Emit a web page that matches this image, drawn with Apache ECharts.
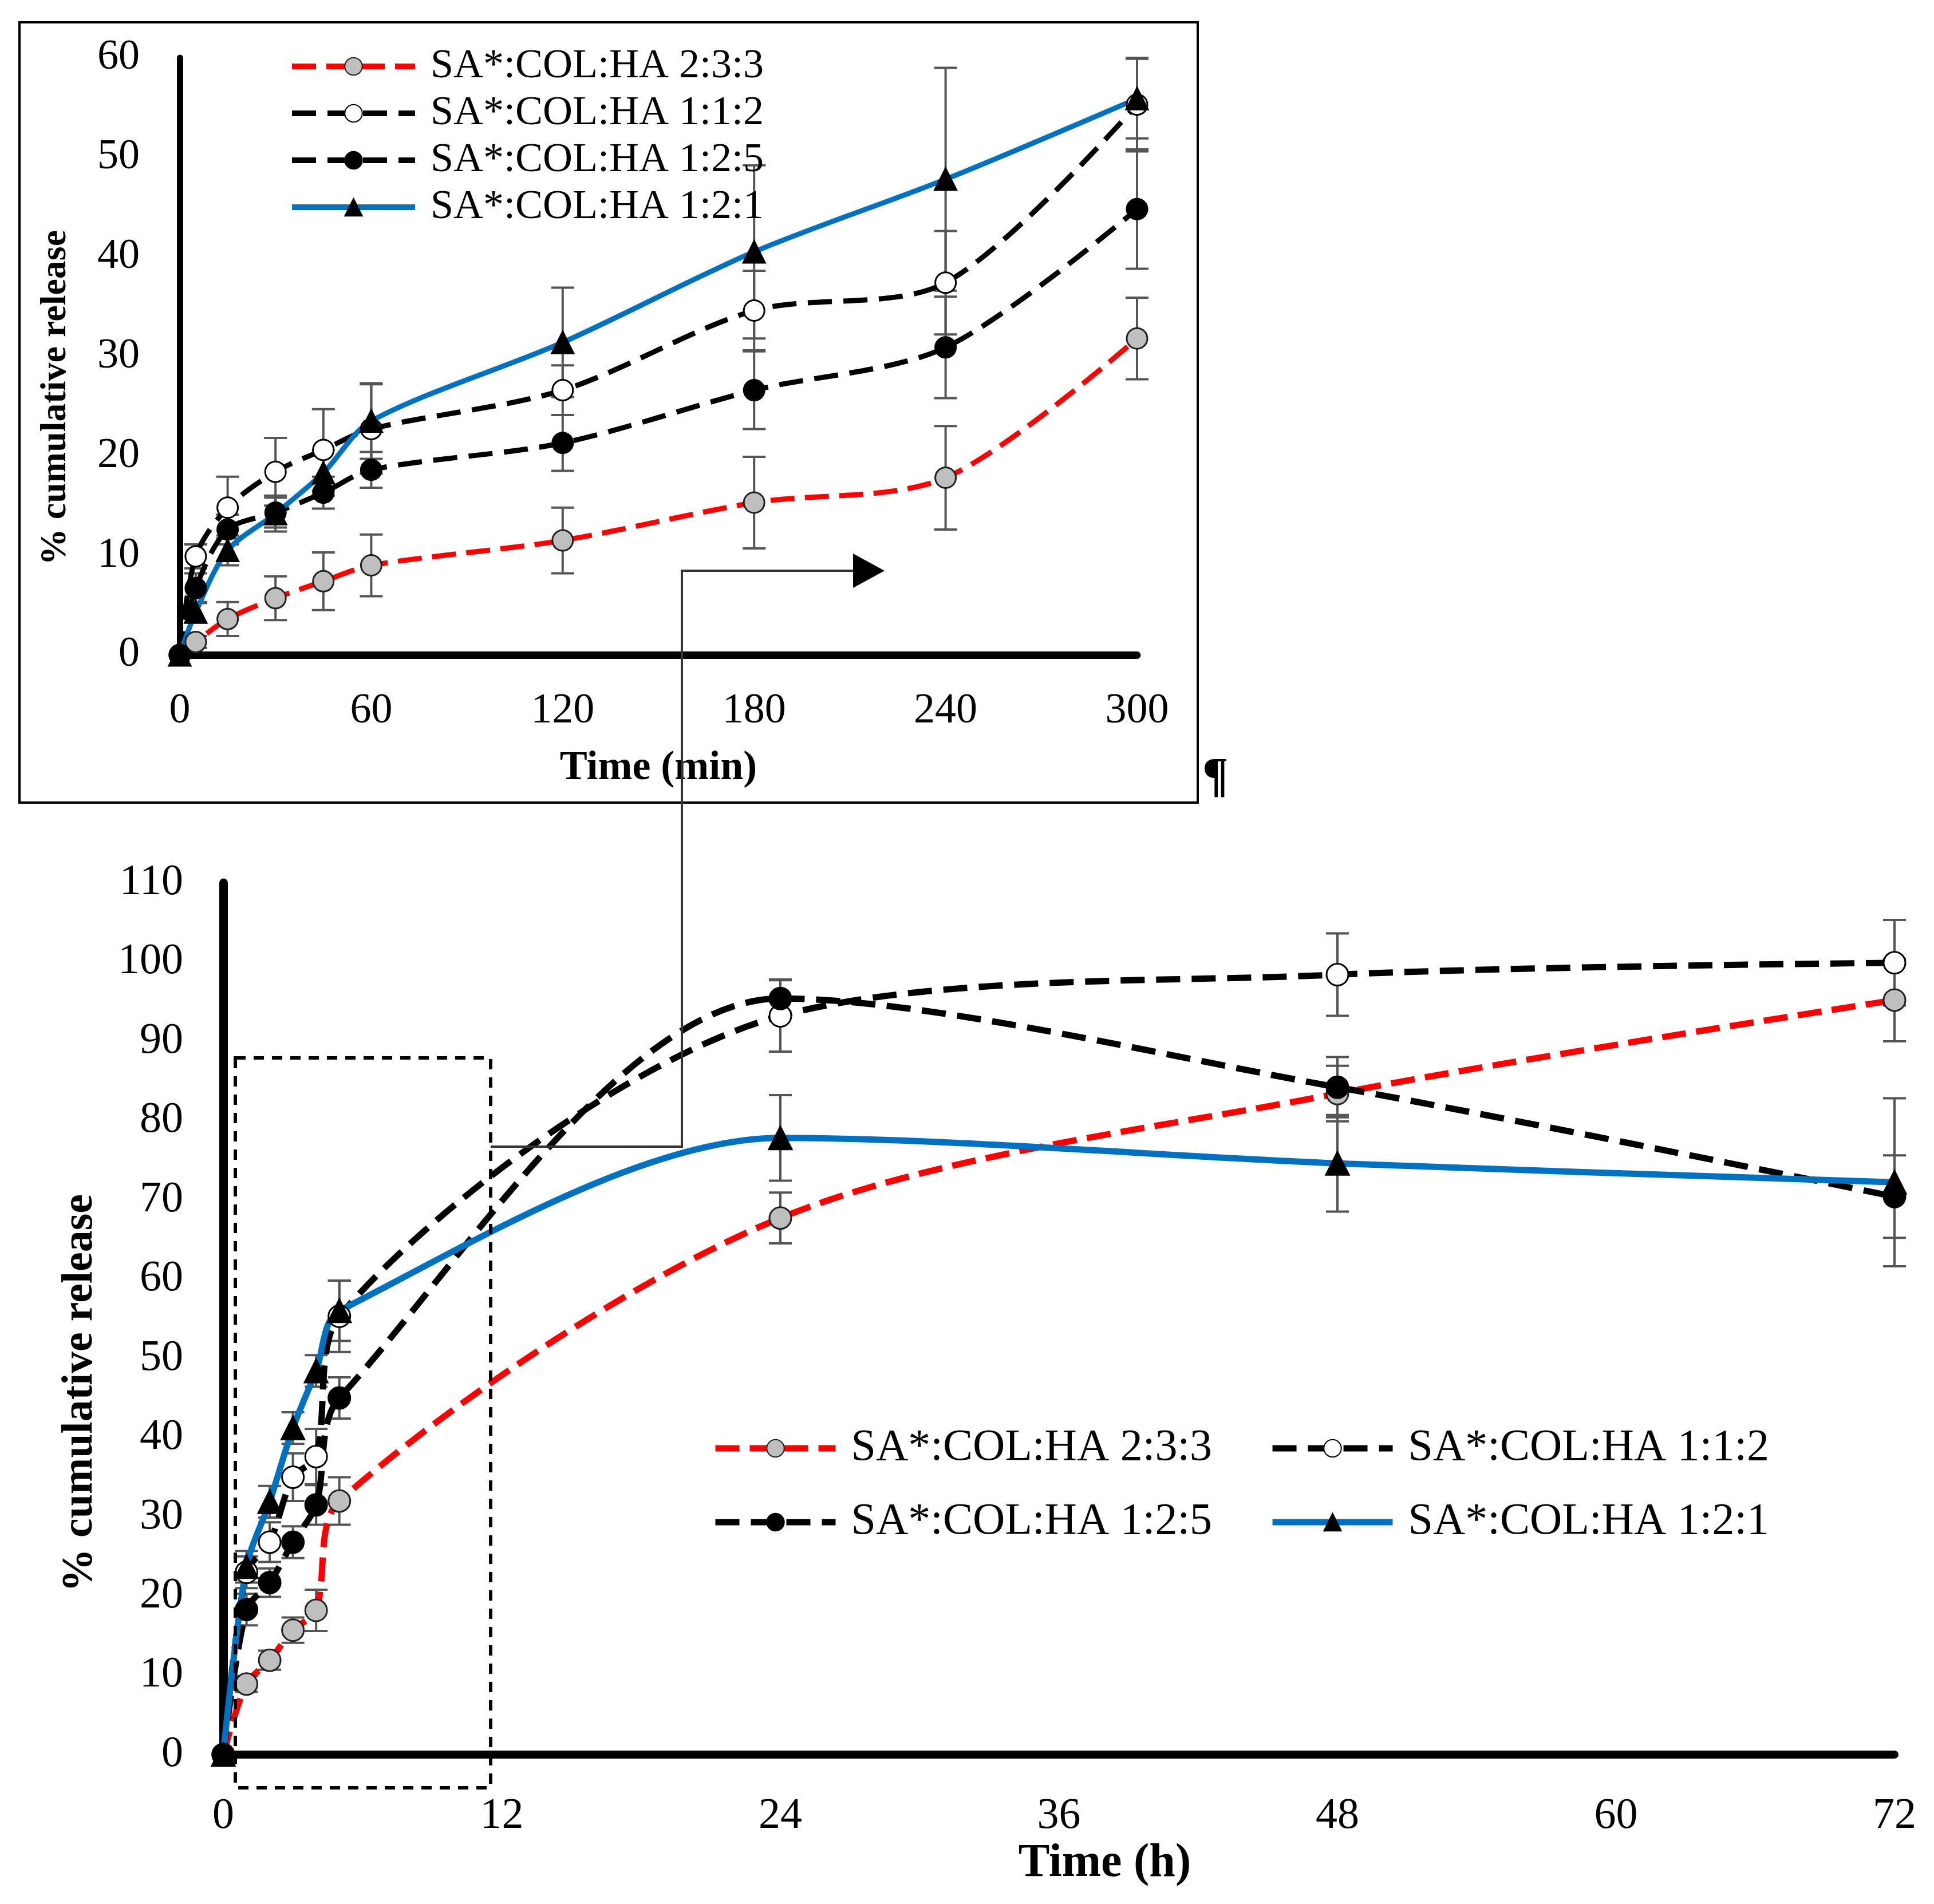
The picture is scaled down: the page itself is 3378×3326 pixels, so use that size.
<!DOCTYPE html>
<html>
<head>
<meta charset="utf-8">
<script src="https://cdn.jsdelivr.net/npm/echarts@6/dist/echarts.min.js"></script>
<style>
  html, body { margin: 0; padding: 0; background: #fff; }
  #chart { width: 3378px; height: 3326px; }
</style>
</head>
<body>
<div id="chart"></div>
<script>
// series names, shared by both panels
const names = ['SA*:COL:HA 2:3:3', 'SA*:COL:HA 1:1:2', 'SA*:COL:HA 1:2:5', 'SA*:COL:HA 1:2:1'];

// main panel, time in hours
const hours = [0, 1, 2, 3, 4, 5, 24, 48, 72];
const h233 = [0, 8.9, 11.9, 15.7, 18.2, 32, 67.7, 83.4, 95.2];
const h233Err = [0, 1, 1.2, 1.6, 2.6, 3, 3.2, 3.5, 5.2];
const h112 = [0, 23, 26.8, 35, 37.6, 55.3, 93.2, 98.4, 99.9];
const h112Err = [0, 2, 2.5, 3, 3.5, 4.5, 4.5, 5.2, 5.4];
const h125 = [0, 18.3, 21.7, 26.8, 31.5, 45, 95.4, 84.2, 70.4];
const h125Err = [0, 2, 1.8, 2, 2.5, 2.6, 2.4, 3.8, 5.2];
const h121 = [0, 23.7, 31.9, 41.2, 48.4, 56, 77.8, 74.6, 72.2];
const h121Err = [0, 2, 2, 2, 2, 3.8, 5.4, 6.1, 10.6];

// inset panel, time in minutes
const minutes = [0, 5, 15, 30, 45, 60, 120, 180, 240, 300];
const m233 = [0, 1.3, 3.6, 5.7, 7.4, 9, 11.5, 15.3, 17.8, 31.8];
const m233Err = [0, 0.6, 1.7, 2.2, 2.9, 3.1, 3.3, 4.6, 5.2, 4.1];
const m112 = [0, 9.9, 14.8, 18.4, 20.6, 22.7, 26.6, 34.6, 37.4, 55.3];
const m112Err = [0, 1.2, 3.1, 3.4, 4.1, 4.5, 2.5, 4, 5.2, 4.7];
const m125 = [0, 6.7, 12.6, 14.3, 16.3, 18.6, 21.3, 26.6, 30.9, 44.8];
const m125Err = [0, 1.5, 1.5, 1.5, 1.6, 1.8, 2.8, 3.9, 5.1, 6];
const m121 = [0, 4.3, 10.5, 14.2, 18.3, 23.5, 31.4, 40.5, 47.8, 55.9];
const m121Err = [0, 1, 1.5, 1.8, 2.3, 3.8, 5.5, 8.7, 11.2, 4];

const looks = [
  { color: '#ff0000', dash: [42, 18], symbol: 'circle', fill: '#bfbfbf', border: '#222' },
  { color: '#000000', dash: [42, 20], symbol: 'circle', fill: '#ffffff', border: '#000' },
  { color: '#000000', dash: [42, 20], symbol: 'circle', fill: '#000000', border: '#000' },
  { color: '#0070c0', dash: 'solid', symbol: 'triangle', fill: '#000000', border: '#000' }
];

const font = 'Liberation Serif';

function pairs(xs, ys) {
  return xs.map(function (x, i) { return [x, ys[i]]; });
}

function triples(xs, ys, es) {
  return xs.map(function (x, i) { return [x, ys[i], es[i]]; });
}

function lineSeries(i, xs, ys, axis, width, size, smooth) {
  const look = looks[i];
  return {
    name: names[i],
    type: 'line',
    xAxisIndex: axis,
    yAxisIndex: axis,
    smooth: smooth,
    clip: false,
    symbol: look.symbol,
    symbolSize: size,
    lineStyle: { color: look.color, width: width, type: look.dash },
    itemStyle: { color: look.fill, borderColor: look.border, borderWidth: 3 },
    z: 3,
    data: pairs(xs, ys)
  };
}

function errorSeries(xs, ys, es, axis) {
  return {
    type: 'custom',
    xAxisIndex: axis,
    yAxisIndex: axis,
    z: 2,
    silent: true,
    renderItem: function (params, api) {
      const x = api.value(0), y = api.value(1), e = api.value(2);
      if (!e) return;
      const top = api.coord([x, y + e]);
      const bot = api.coord([x, y - e]);
      const w = 20;
      const st = { stroke: '#555', lineWidth: 4 };
      return {
        type: 'group',
        children: [
          { type: 'line', shape: { x1: top[0], y1: top[1], x2: bot[0], y2: bot[1] }, style: st },
          { type: 'line', shape: { x1: top[0] - w, y1: top[1], x2: top[0] + w, y2: top[1] }, style: st },
          { type: 'line', shape: { x1: bot[0] - w, y1: bot[1], x2: bot[0] + w, y2: bot[1] }, style: st }
        ]
      };
    },
    data: triples(xs, ys, es)
  };
}

function legendBox(items, left, top, orient, itemWidth, gap, size, lineW) {
  return {
    data: items,
    left: left, top: top, orient: orient,
    itemWidth: itemWidth, itemHeight: 38, itemGap: gap,
    lineStyle: { width: lineW },
    textStyle: { fontFamily: font, fontSize: size, color: '#000', padding: [0, 0, 0, 22], lineHeight: size }
  };
}

const chart = echarts.init(document.getElementById('chart'));

const option = {
  backgroundColor: '#ffffff',
  animation: false,
  grid: [
    { left: 390, right: 69, top: 1542, bottom: 261 },
    { left: 314, width: 1672, top: 101, height: 1043 }
  ],
  legend: [
    legendBox([names[0], names[1]], 1239, 2486, 'horizontal', 210, 100, 78, 11),
    legendBox([names[2], names[3]], 1239, 2615, 'horizontal', 210, 100, 78, 11),
    legendBox(names, 500, 75, 'vertical', 215, 10, 72, 10)
  ],
  xAxis: [
    {
      type: 'value', gridIndex: 0, min: 0, max: 72, interval: 12,
      name: 'Time (h)', nameLocation: 'middle', nameGap: 150,
      nameTextStyle: { fontFamily: font, fontSize: 82, fontWeight: 'bold', color: '#000', padding: [0, 0, 0, 160] },
      axisLine: { lineStyle: { color: '#000', width: 14 } },
      axisTick: { show: false },
      splitLine: { show: false },
      axisLabel: { fontFamily: font, fontSize: 76, color: '#000', margin: 70 }
    },
    {
      type: 'value', gridIndex: 1, min: 0, max: 300, interval: 60,
      name: 'Time (min)', nameLocation: 'middle', nameGap: 162,
      nameTextStyle: { fontFamily: font, fontSize: 72, fontWeight: 'bold', color: '#000' },
      axisLine: { lineStyle: { color: '#000', width: 13 } },
      axisTick: { show: false },
      splitLine: { show: false },
      axisLabel: { fontFamily: font, fontSize: 74, color: '#000', margin: 62 }
    }
  ],
  yAxis: [
    {
      type: 'value', gridIndex: 0, min: 0, max: 110, interval: 10,
      name: '% cumulative release', nameLocation: 'middle', nameGap: 212,
      nameTextStyle: { fontFamily: font, fontSize: 76, fontWeight: 'bold', color: '#000', padding: [0, 260, 0, 0] },
      axisLine: { lineStyle: { color: '#000', width: 15 } },
      axisTick: { show: false },
      splitLine: { show: false },
      axisLabel: { fontFamily: font, fontSize: 76, color: '#000', margin: 70 }
    },
    {
      type: 'value', gridIndex: 1, min: 0, max: 60, interval: 10,
      name: '% cumulative release', nameLocation: 'middle', nameGap: 185,
      nameTextStyle: { fontFamily: font, fontSize: 64, fontWeight: 'bold', color: '#000', padding: [0, 144, 0, 0] },
      axisLine: { lineStyle: { color: '#000', width: 11 } },
      axisTick: { show: false },
      splitLine: { show: false },
      axisLabel: { fontFamily: font, fontSize: 74, color: '#000', margin: 70 }
    }
  ],
  graphic: [
    // inset frame
    { type: 'rect', z: 0, shape: { x: 34, y: 39, width: 2058, height: 1363 },
      style: { fill: 'none', stroke: '#000', lineWidth: 4 } },
    // zoom window on main chart
    { type: 'rect', z: 10, shape: { x: 411, y: 1848, width: 446, height: 1275 },
      style: { fill: 'none', stroke: '#000', lineWidth: 6, lineDash: [18, 14] } },
    // connector to inset
    { type: 'polyline', z: 10, shape: { points: [[857, 2003], [1191, 2003], [1191, 997], [1492, 997]] },
      style: { fill: 'none', stroke: '#333', lineWidth: 4 } },
    { type: 'polygon', z: 10, shape: { points: [[1490, 967], [1545, 997], [1490, 1027]] },
      style: { fill: '#000' } },
    { type: 'text', z: 10, left: 2100, top: 1318,
      style: { text: '¶', font: 'bold 84px "Liberation Serif"', fill: '#000' } }
  ],
  series: [
    lineSeries(0, hours, h233, 0, 11, 38, 0.3),
    lineSeries(1, hours, h112, 0, 11, 38, 0.3),
    lineSeries(2, hours, h125, 0, 11, 38, 0.3),
    lineSeries(3, hours, h121, 0, 11, 40, 0.3),
    errorSeries(hours, h233, h233Err, 0),
    errorSeries(hours, h112, h112Err, 0),
    errorSeries(hours, h125, h125Err, 0),
    errorSeries(hours, h121, h121Err, 0),
    lineSeries(0, minutes, m233, 1, 9, 36, 0.3),
    lineSeries(1, minutes, m112, 1, 9, 36, 0.3),
    lineSeries(2, minutes, m125, 1, 9, 36, 0.3),
    lineSeries(3, minutes, m121, 1, 9, 38, 0.3),
    errorSeries(minutes, m233, m233Err, 1),
    errorSeries(minutes, m112, m112Err, 1),
    errorSeries(minutes, m125, m125Err, 1),
    errorSeries(minutes, m121, m121Err, 1)
  ]
};

chart.setOption(option);
</script>
</body>
</html>
